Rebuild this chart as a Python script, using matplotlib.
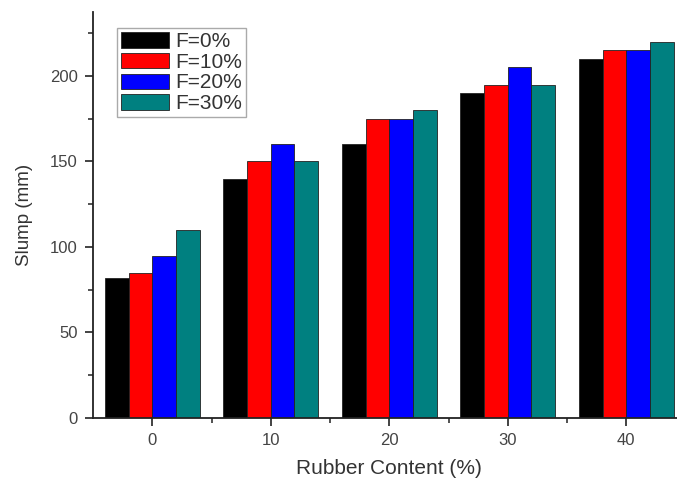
import matplotlib
matplotlib.use("Agg")
import matplotlib.pyplot as plt
import numpy as np

plt.rcParams['font.family'] = ['Liberation Sans', 'DejaVu Sans']

rubber = [0, 10, 20, 30, 40]
series_labels = ["F=0%", "F=10%", "F=20%", "F=30%"]
f0 = [82, 140, 160, 190, 210]
f10 = [85, 150, 175, 195, 215]
f20 = [95, 160, 175, 205, 215]
f30 = [110, 150, 180, 195, 220]
colors = ["#000000", "#ff0000", "#0000ff", "#008080"]

fig = plt.figure(figsize=(6.77, 4.82), dpi=100)
ax = fig.add_axes([93/677, 64/482, 592.5/677, 406/482])

x = np.array(rubber, dtype=float)
bw = 2.0
offsets = [-3, -1, 1, 3]
for vals, off, c, lab in zip([f0, f10, f20, f30], offsets, colors, series_labels):
    ax.bar(x + off, vals, width=bw, color=c, edgecolor="#222222", linewidth=0.6, label=lab)

ax.set_xlim(-5, 45)
ax.set_ylim(0, 237.4)
ax.set_xticks(rubber)
ax.set_xticks([5, 15, 25, 35], minor=True)
ax.set_yticks([0, 50, 100, 150, 200])
ax.set_yticks([25, 75, 125, 175, 225], minor=True)

for s in ['top', 'right']:
    ax.spines[s].set_visible(False)
for s in ['left', 'bottom']:
    ax.spines[s].set_linewidth(1.3)
    ax.spines[s].set_color('#222222')

ax.tick_params(axis='both', which='major', direction='out', length=6, width=1.2,
               colors='#222222', labelcolor='#444444', labelsize=12, pad=5)
ax.tick_params(axis='both', which='minor', direction='out', length=3.5, width=1.1,
               colors='#222222')

ax.set_xlabel("Rubber Content (%)", fontsize=15, color='#333333', labelpad=8)
ax.set_ylabel("Slump (mm)", fontsize=13.5, color='#333333', labelpad=12)

leg = ax.legend(loc='upper left', bbox_to_anchor=(0.0405, 0.9606), borderaxespad=0,
                fontsize=15, handlelength=2.3, handleheight=0.75, labelspacing=0.08,
                handletextpad=0.3, borderpad=0.2, fancybox=False, framealpha=1,
                edgecolor='#aaaaaa')
leg.get_frame().set_linewidth(1.0)
for t in leg.get_texts():
    t.set_color('#333333')

fig.savefig("out.png", dpi=100)
